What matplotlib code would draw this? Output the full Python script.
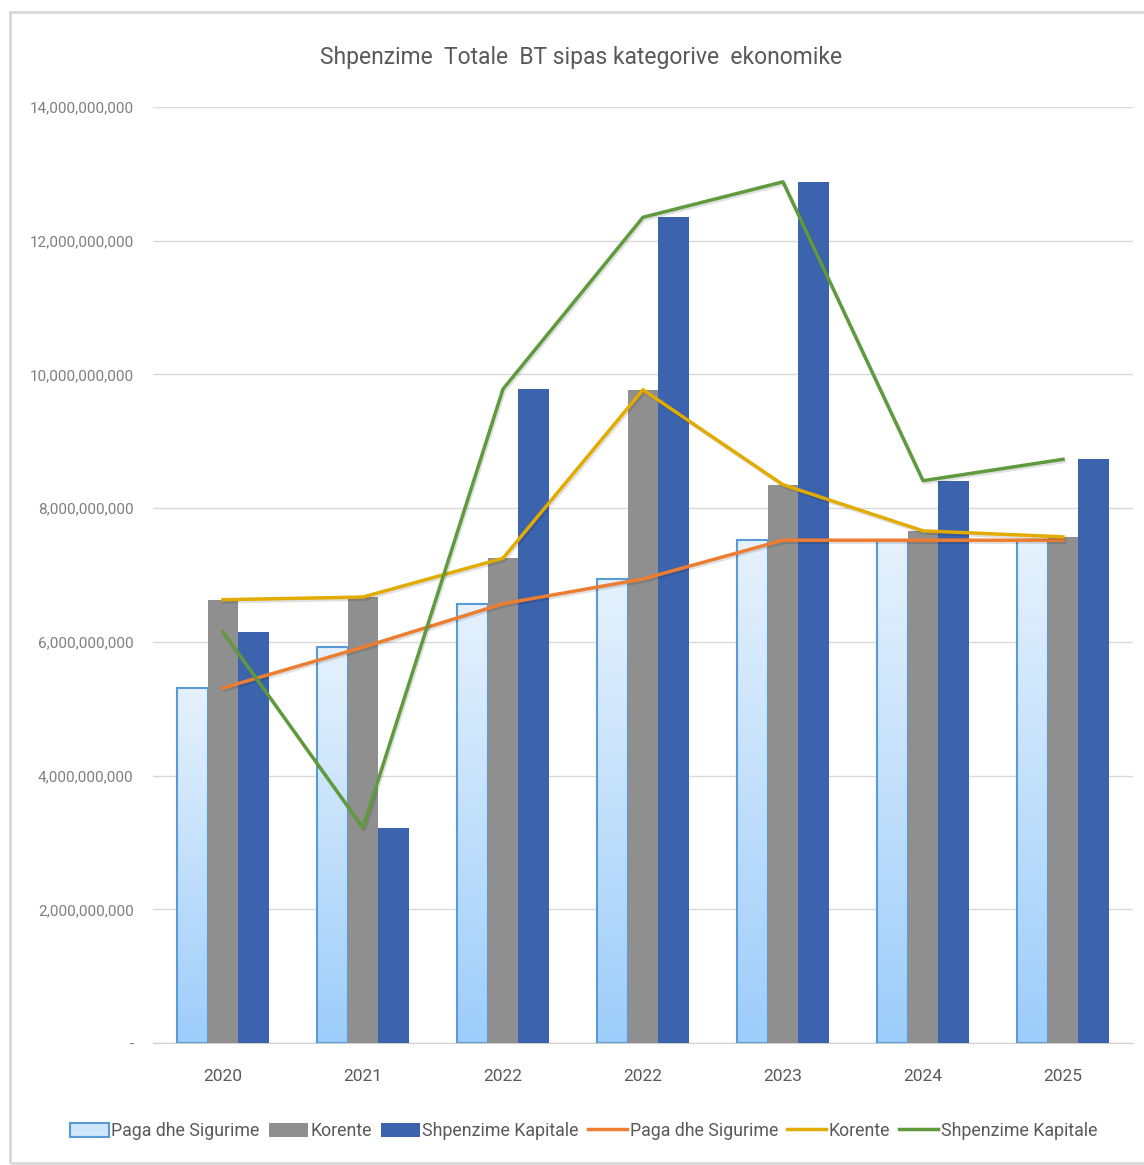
import matplotlib
matplotlib.use("Agg")
import matplotlib.pyplot as plt
import matplotlib.patheffects as pe
import numpy as np
from matplotlib.colors import LinearSegmentedColormap
from matplotlib.lines import Line2D
from matplotlib.patches import Patch, Rectangle
from matplotlib.ticker import FuncFormatter


years = ["2020", "2021", "2022", "2022", "2023", "2024", "2025"]
paga = [5.31e9, 5.92e9, 6.57e9, 6.94e9, 7.52e9, 7.52e9, 7.52e9]
korente = [6.63e9, 6.67e9, 7.25e9, 9.77e9, 8.35e9, 7.66e9, 7.57e9]
kapitale = [6.15e9, 3.22e9, 9.78e9, 12.35e9, 12.88e9, 8.41e9, 8.73e9]

TITLE = "Shpenzime  Totale  BT sipas kategorive  ekonomike"
TEXT_GREY = "#7f7f7f"

plt.rcParams["font.family"] = ["Roboto", "DejaVu Sans"]


def y_fmt(v, _pos):
    if v == 0:
        return "-"
    return f"{v:,.0f}"


def main() -> None:
    fig = plt.figure(figsize=(11.44, 11.65), dpi=100)
    ax = fig.add_axes([0.1337, 0.1047, 0.8567, 0.8035])

    # light frame round the chart area
    fig.patches.append(Rectangle((10 / 1144, 2 / 1165), 1.2, 1151 / 1165,
                                 transform=fig.transFigure, fill=False,
                                 edgecolor="#d9d9d9", linewidth=2))

    x = np.arange(len(years))
    w = 0.22

    bars_paga = ax.bar(x - w, paga, w, facecolor="none", edgecolor="#5b9bd5",
                       linewidth=1.5, zorder=3)
    ax.bar(x, korente, w, color="#8f8f8f", zorder=3)
    ax.bar(x + w, kapitale, w, color="#3c63ad", zorder=3)

    # gradient fill for the first bar series
    cmap = LinearSegmentedColormap.from_list("paga", ["#e6f2fd", "#9dcdfa"])
    grad = np.linspace(0, 1, 256).reshape(-1, 1)
    for rect in bars_paga:
        x0 = rect.get_x()
        ax.imshow(grad, cmap=cmap, aspect="auto", origin="upper",
                  extent=(x0, x0 + rect.get_width(), 0, rect.get_height()),
                  zorder=2.5)

    shadow = [pe.SimpleLineShadow(offset=(1, -1.5), alpha=0.12), pe.Normal()]
    ax.plot(x, paga, color="#ed7d31", linewidth=2.5, zorder=4, path_effects=shadow)
    ax.plot(x, korente, color="#e2ab00", linewidth=2.5, zorder=4, path_effects=shadow)
    ax.plot(x, kapitale, color="#5f9a3c", linewidth=2.5, zorder=4, path_effects=shadow)

    ax.set_xlim(-0.5, len(years) - 0.5)
    ax.set_ylim(0, 14e9)
    ax.set_yticks(np.arange(0, 14.01e9, 2e9))
    ax.yaxis.set_major_formatter(FuncFormatter(y_fmt))
    ax.set_xticks(x)
    ax.set_xticklabels(years)

    ax.grid(axis="y", color="#d9d9d9", linewidth=1, zorder=0)
    ax.set_axisbelow(True)
    for side in ["top", "right", "left"]:
        ax.spines[side].set_visible(False)
    ax.spines["bottom"].set_color("#d0d0d0")
    ax.tick_params(axis="y", length=0, pad=14, labelsize=11, labelcolor=TEXT_GREY)
    ax.tick_params(axis="x", length=0, pad=19, labelsize=12.5, labelcolor="#595959")

    fig.text(0.508, 0.951, TITLE, ha="center", va="center", fontsize=16.5,
             color="#595959")

    handles = [
        Patch(facecolor="#cfe6fb", edgecolor="#5b9bd5", linewidth=1.5),
        Patch(facecolor="#8f8f8f"),
        Patch(facecolor="#3c63ad"),
        Line2D([], [], color="#ed7d31", linewidth=2.5),
        Line2D([], [], color="#e2ab00", linewidth=2.5),
        Line2D([], [], color="#5f9a3c", linewidth=2.5),
    ]
    labels = ["Paga dhe Sigurime", "Korente", "Shpenzime Kapitale",
              "Paga dhe Sigurime", "Korente", "Shpenzime Kapitale"]
    leg = fig.legend(handles, labels, loc="center", bbox_to_anchor=(0.51, 0.029),
                     ncol=6, frameon=False, fontsize=12.8, handlelength=2.2,
                     handleheight=0.9, handletextpad=0.15, columnspacing=0.5)
    for t in leg.get_texts():
        t.set_color("#595959")

    fig.savefig("out.png", dpi=100)
    plt.close(fig)


if __name__ == "__main__":
    main()
